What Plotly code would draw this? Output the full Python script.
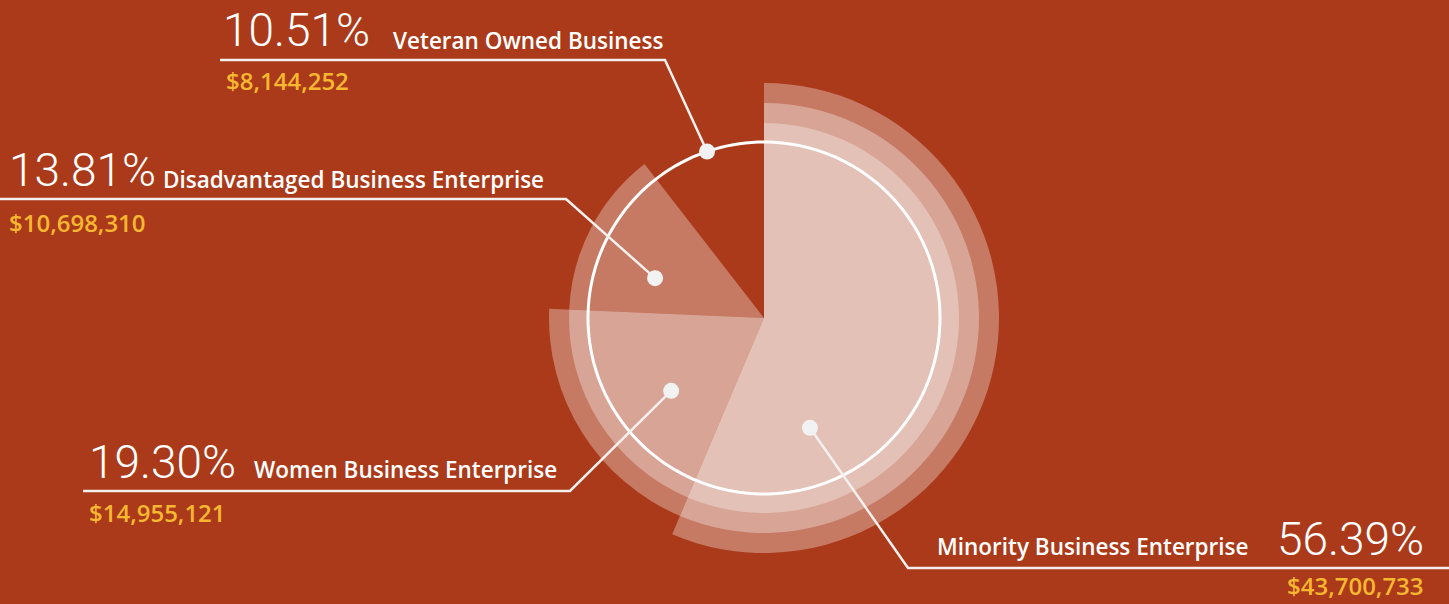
import math
import plotly.graph_objects as go

# data
categories = ["Minority Business Enterprise", "Women Business Enterprise",
              "Disadvantaged Business Enterprise", "Veteran Owned Business"]
percents = [56.39, 19.30, 13.81, 10.51]
amounts = ["$43,700,733", "$14,955,121", "$10,698,310", "$8,144,252"]
ring_counts = [3, 2, 1, 0]   # how many translucent layers each slice gets

W, H = 1449, 604
BG = "#ab3a1a"
YELLOW = "#f7b731"
LAYER = "rgba(255,255,255,0.32)"
CX, CY, R_PX = 764, 318, 286     # polar centre and radius in pixels
BASE_R, STEP_R, CIRCLE_R = 195, 20, 176

widths = [p * 3.6 for p in percents]
centers = []
acc = 0
for w in widths:
    centers.append(acc + w / 2)
    acc += w

fig = go.Figure()

# stacked translucent layers, drawn as overlaid polar bars
for k in range(max(ring_counts)):
    r = [BASE_R + STEP_R * k if n > k else 0 for n in ring_counts]
    fig.add_trace(go.Barpolar(
        r=r, theta=centers, width=widths,
        marker=dict(color=LAYER, line=dict(width=0)),
        hoverinfo="skip", showlegend=False))

# white guide circle
circle_theta = list(range(0, 361, 2))
fig.add_trace(go.Scatterpolar(
    r=[CIRCLE_R] * len(circle_theta), theta=circle_theta, mode="lines",
    line=dict(color="white", width=3), hoverinfo="skip", showlegend=False))

# callout dots (polar r, theta) and label corners in pixels
dot_r = [119, 118, 116, CIRCLE_R]
dot_theta = [157.3, 231.9, 290.1, centers[3]]
elbows = [(908, 568), (570, 491), (566, 199), (665, 60)]
line_ends = [1449, 83, 0, 220]


def to_paper(x, y):
    return x / W, 1 - y / H


def polar_px(r, th):
    a = math.radians(th)
    return CX + r * math.sin(a), CY - r * math.cos(a)


shapes = []
dots = []
for r, th, (ex, ey), lx in zip(dot_r, dot_theta, elbows, line_ends):
    dx, dy = polar_px(r, th)
    x0, y0 = to_paper(dx, dy)
    x1, y1 = to_paper(ex, ey)
    x2, y2 = to_paper(lx, ey)
    shapes.append(dict(type="path", xref="paper", yref="paper",
                       path=f"M {x0} {y0} L {x1} {y1} L {x2} {y2}",
                       line=dict(color="#f4f0ee", width=2.5)))
    dots.append(dict(type="circle", xref="paper", yref="paper",
                     xsizemode="pixel", ysizemode="pixel",
                     xanchor=x0, yanchor=y0, x0=-8, x1=8, y0=-8, y1=8,
                     fillcolor="#f2f2f2", line=dict(width=0)))
shapes += dots

PCT_FONT = dict(family="Roboto Light, Roboto", size=46, color="white", weight=300)
LBL_FONT = dict(family="Open Sans", size=22.5, color="white", weight=600)
AMT_FONT = dict(family="Open Sans", size=24, color=YELLOW, weight=600)

# (pct x, pct y, label x, label y, amount x, amount y, anchor)
text_pos = [
    (1425, 539, 1250, 546, 1425, 585, "right"),
    (88, 462, 253, 469, 88, 512, "left"),
    (8, 170, 162, 180, 8, 222, "left"),
    (222, 30, 392, 40, 225, 80, "left"),
]

annotations = []
for i, (px_, py_, lx, ly, ax, ay, side) in enumerate(text_pos):
    pct_txt = f"{percents[i]:.2f}%"
    x, y = to_paper(px_, py_)
    annotations.append(dict(text=pct_txt, x=x, y=y, xref="paper", yref="paper",
                            xanchor=side, yanchor="middle", showarrow=False,
                            font=PCT_FONT, borderpad=0))
    x, y = to_paper(lx, ly)
    annotations.append(dict(text=categories[i], x=x, y=y, xref="paper", yref="paper",
                            xanchor=side, yanchor="middle", showarrow=False,
                            font=LBL_FONT, borderpad=0))
    x, y = to_paper(ax, ay)
    annotations.append(dict(text=amounts[i], x=x, y=y, xref="paper", yref="paper",
                            xanchor=side, yanchor="middle", showarrow=False,
                            font=AMT_FONT, borderpad=0))

fig.update_layout(
    width=W, height=H,
    margin=dict(l=0, r=0, t=0, b=0),
    paper_bgcolor=BG, plot_bgcolor=BG,
    polar=dict(
        domain=dict(x=[(CX - R_PX) / W, (CX + R_PX) / W],
                    y=[(H - CY - R_PX) / H, (H - CY + R_PX) / H]),
        bgcolor="rgba(0,0,0,0)",
        barmode="overlay",
        radialaxis=dict(visible=False, range=[0, R_PX]),
        angularaxis=dict(visible=False, rotation=90, direction="clockwise"),
    ),
    shapes=shapes,
    annotations=annotations,
    showlegend=False,
)

# drop the browser's default body margin so the figure fills the window
fig.write_html("out.html", config={"displayModeBar": False},
               post_script="document.body.style.margin='0';")
